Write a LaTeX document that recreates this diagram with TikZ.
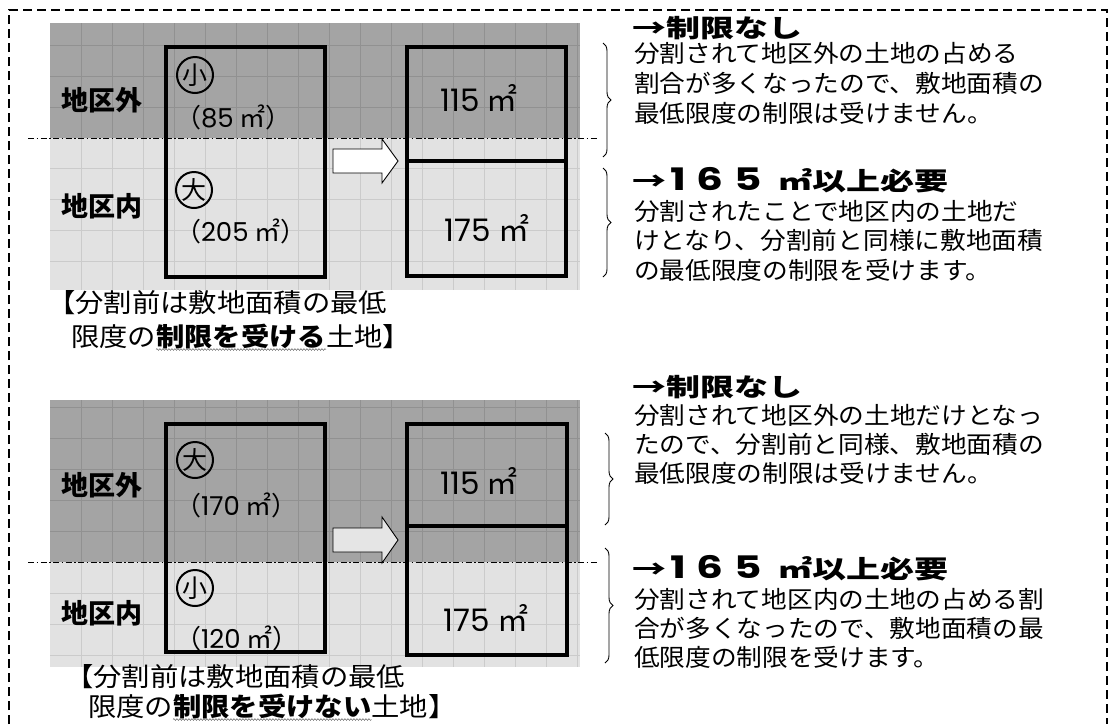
\documentclass[tikz,border=0pt]{standalone}
\usepackage{fontspec}
\usepackage{graphicx}
\usetikzlibrary{decorations.pathreplacing,decorations.pathmorphing}
\newfontfamily\jp{Noto Sans CJK JP}
\newfontfamily\pop{Poppins}
\definecolor{darkbg}{RGB}{164,164,164}
\definecolor{darkgrid}{RGB}{145,145,145}
\definecolor{lightbg}{RGB}{226,226,226}
\definecolor{lightgrid}{RGB}{203,203,203}
\newcommand\bodytxt[1]{\scalebox{1.07}[1]{\jp\fontsize{24}{24}\selectfont #1}}
\newcommand\headtxt[1]{\scalebox{1.36}[1]{\jp\bfseries\fontsize{25}{25}\selectfont #1}}
\newcommand\headnum{{\pop\bfseries\fontsize{31}{31}\selectfont 1\hspace{8pt}6\hspace{8pt}5}}
\newcommand\captxt[1]{\scalebox{1.09}[1]{\jp\fontsize{26}{26}\selectfont #1}}
\newcommand\captxtb[1]{\scalebox{1.09}[1]{\jp\bfseries\fontsize{26}{26}\selectfont #1}}
\newcommand\valtxt[1]{{\jp（}{\pop #1}\hspace{6pt}{\jp ㎡）}}
\newcommand\bigval[1]{{\pop #1}\hspace{7pt}{\jp ㎡}}
\tikzset{
  every node/.style={inner sep=0pt, outer sep=0pt},
  border/.style={line width=1.6pt, dash pattern=on 9pt off 5pt},
  dashdot/.style={line width=0.8pt, dash pattern=on 6pt off 2.5pt on 1.5pt off 2.5pt},
  lot/.style={draw, line width=3.3pt, anchor=north west},
  divider/.style={line width=3.3pt},
  blockarrow/.style={draw, line width=0.9pt},
  bracestyle/.style={decorate, decoration={brace, amplitude=8pt}, line width=0.9pt},
  wavy/.style={decorate, decoration={snake, amplitude=0.9pt, segment length=3pt}, line width=0.5pt, black!60},
  lbl/.style={anchor=base, font=\jp\bfseries\fontsize{27}{27}\selectfont},
  circ/.style={circle, draw, line width=2pt, minimum size=36pt, font=\jp\fontsize{25}{25}\selectfont},
  numsmall/.style={anchor=base west, font=\fontsize{26}{26}\selectfont},
  numbig/.style={anchor=base, font=\fontsize{31}{31}\selectfont},
  txt/.style={anchor=base west}
}
\begin{document}
\begin{tikzpicture}[x=1pt,y=-1pt]
\useasboundingbox (0,0) rectangle (1118,724);
\draw[border] (9,724) -- (9,10) -- (1107,10) -- (1107,724);

% ---------- top panel ----------
\fill[darkbg] (50,23) rectangle (580,138);
\fill[lightbg] (50,138) rectangle (580,290);
\foreach \x in {81,112,...,577} {
  \draw[darkgrid, line width=0.6pt] (\x,23) -- (\x,138);
  \draw[lightgrid, line width=0.6pt] (\x,138) -- (\x,290);
}
\foreach \y in {45,76,107} \draw[darkgrid, line width=0.6pt] (50,\y) -- (580,\y);
\foreach \y in {168,199,230,261} \draw[lightgrid, line width=0.6pt] (50,\y) -- (580,\y);
\draw[dashdot] (28,138) -- (598,138);

\node[lot, minimum width=159pt, minimum height=230pt] (lotA) at (166,47) {};
\node[lot, minimum width=159pt, minimum height=229pt] (lotB) at (407,47) {};
\draw[divider] (lotB.west |- 0,161) -- (lotB.east |- 0,161);

\draw[blockarrow, fill=white] (333,149) -- (382,149) -- (382,139) -- (398,161) -- (382,183) -- (382,173) -- (333,173) -- cycle;

\node[lbl] (outA) at (102,110) {地区外};
\node[lbl] (inA) at (102,216) {地区内};
\node[circ] (smallA) at (195,75) {小};
\node[circ] (bigA) at (194,190) {大};
\node[numsmall] (v85) at (175,127) {\valtxt{85}};
\node[numsmall] (v205) at (175,241) {\valtxt{205}};
\node[numbig] (v115a) at (479,111) {\bigval{115}};
\node[numbig] (v175a) at (487,241) {\bigval{175}};

\draw[bracestyle] (603,43) -- (603,157);
\draw[bracestyle] (603,168) -- (603,277);

\node[txt] (hA) at (632,37) {\headtxt{→制限なし}};
\node[txt] (a1) at (634,62) {\bodytxt{分割されて地区外の土地の占める}};
\node[txt] (a2) at (634,92) {\bodytxt{割合が多くなったので、敷地面積の}};
\node[txt] (a3) at (634,122) {\bodytxt{最低限度の制限は受けません。}};
\node[txt] (hB) at (632,190) {\headtxt{→\hspace{3pt}\headnum\hspace{12pt}㎡以上必要}};
\node[txt] (b1) at (634,220) {\bodytxt{分割されたことで地区内の土地だ}};
\node[txt] (b2) at (634,249) {\bodytxt{けとなり、分割前と同様に敷地面積}};
\node[txt] (b3) at (634,279) {\bodytxt{の最低限度の制限を受けます。}};

\node[txt] (capA1) at (47,312) {\captxt{【分割前は敷地面積の最低}};
\node[txt] (capA2a) at (71,346) {\captxt{限度の}};
\node[anchor=base west] (capA2b) at (capA2a.base east) {\captxtb{制限を受ける}};
\node[anchor=base west] (capA2c) at (capA2b.base east) {\captxt{土地】}};
\draw[wavy] ([yshift=-1pt]capA2b.south west) -- ([yshift=-1pt]capA2b.south east);

% ---------- bottom panel ----------
\fill[darkbg] (50,400) rectangle (580,562);
\fill[lightbg] (50,562) rectangle (580,667);
\foreach \x in {81,112,...,577} {
  \draw[darkgrid, line width=0.6pt] (\x,400) -- (\x,562);
  \draw[lightgrid, line width=0.6pt] (\x,562) -- (\x,667);
}
\foreach \y in {407,438,469,500,531} \draw[darkgrid, line width=0.6pt] (50,\y) -- (580,\y);
\foreach \y in {593,624,655} \draw[lightgrid, line width=0.6pt] (50,\y) -- (580,\y);
\draw[dashdot] (28,562) -- (598,562);

\node[lot, minimum width=159pt, minimum height=228pt] (lotC) at (166,424) {};
\node[lot, minimum width=160pt, minimum height=231pt] (lotD) at (407,424) {};
\draw[divider] (lotD.west |- 0,526) -- (lotD.east |- 0,526);

\draw[blockarrow, fill=black!10] (333,528) -- (382,528) -- (382,517) -- (398,540) -- (382,563) -- (382,552) -- (333,552) -- cycle;

\node[lbl] (outC) at (102,495) {地区外};
\node[lbl] (inC) at (102,623) {地区内};
\node[circ] (bigC) at (195,460) {大};
\node[circ] (smallC) at (195,588) {小};
\node[numsmall] (v170) at (175,515) {\valtxt{170}};
\node[numsmall] (v120) at (175,648) {\valtxt{120}};
\node[numbig] (v115c) at (479,494) {\bigval{115}};
\node[numbig] (v175c) at (486,631) {\bigval{175}};

\draw[bracestyle] (605,433) -- (605,525);
\draw[bracestyle] (605,548) -- (605,663);

\node[txt] (hC) at (632,396) {\headtxt{→制限なし}};
\node[txt] (c1) at (634,424) {\bodytxt{分割されて地区外の土地だけとなっ}};
\node[txt] (c2) at (634,453) {\bodytxt{たので、分割前と同様、敷地面積の}};
\node[txt] (c3) at (634,482) {\bodytxt{最低限度の制限は受けません。}};
\node[txt] (hD) at (632,578) {\headtxt{→\hspace{3pt}\headnum\hspace{12pt}㎡以上必要}};
\node[txt] (d1) at (634,608) {\bodytxt{分割されて地区内の土地の占める割}};
\node[txt] (d2) at (634,637) {\bodytxt{合が多くなったので、敷地面積の最}};
\node[txt] (d3) at (634,666) {\bodytxt{低限度の制限を受けます。}};

\node[txt] (capC1) at (65,686) {\captxt{【分割前は敷地面積の最低}};
\node[txt] (capC2a) at (88,716) {\captxt{限度の}};
\node[anchor=base west] (capC2b) at (capC2a.base east) {\captxtb{制限を受けない}};
\node[anchor=base west] (capC2c) at (capC2b.base east) {\captxt{土地】}};
\draw[wavy] ([yshift=-1pt]capC2b.south west) -- ([yshift=-1pt]capC2b.south east);
\end{tikzpicture}
\end{document}
